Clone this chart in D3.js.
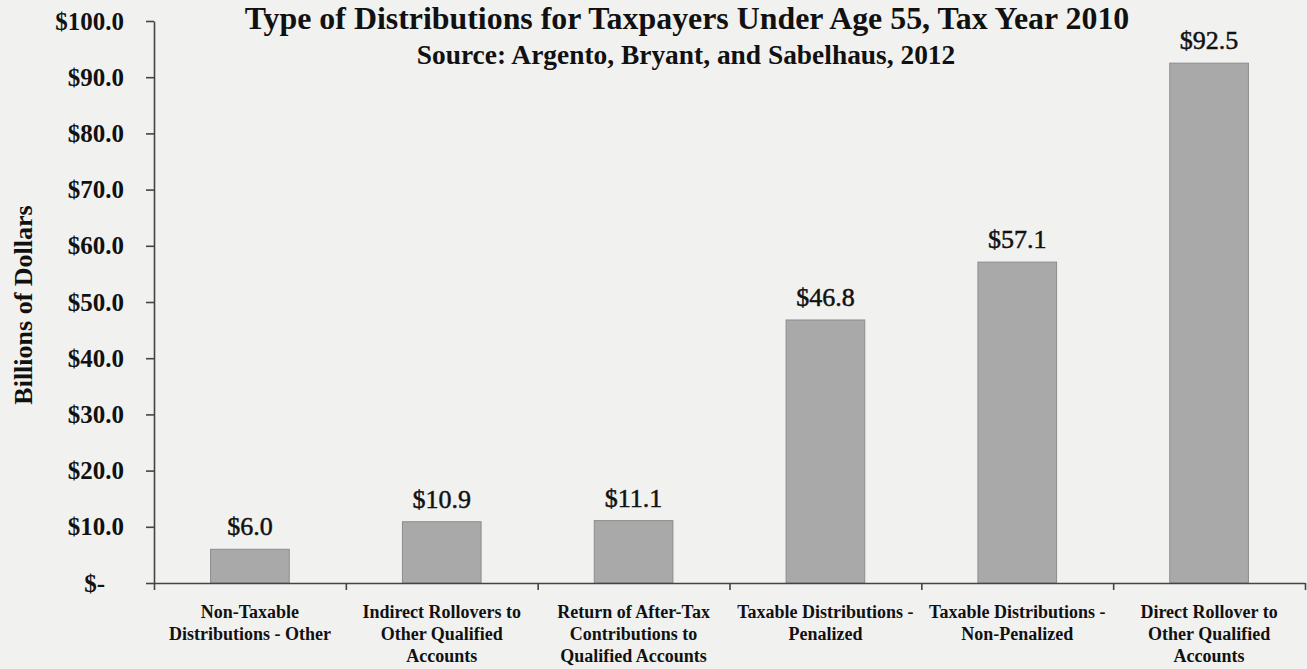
<!DOCTYPE html>
<html>
<head>
<meta charset="utf-8">
<script src="https://cdn.jsdelivr.net/npm/d3@7"></script>
<style>
  html, body { margin: 0; padding: 0; background: #f1f1f0; }
  svg { display: block; }
  text { font-family: "Liberation Serif", "Times New Roman", serif; fill: #111; }
</style>
</head>
<body>
<svg id="chart" width="1307" height="669"></svg>
<script>
// Distribution types (one array of lines per category label)
const categories = [
  "Non-Taxable Distributions - Other",
  "Indirect Rollovers to Other Qualified Accounts",
  "Return of After-Tax Contributions to Qualified Accounts",
  "Taxable Distributions - Penalized",
  "Taxable Distributions - Non-Penalized",
  "Direct Rollover to Other Qualified Accounts"
];
const categoryLines = [
  ["Non-Taxable", "Distributions - Other"],
  ["Indirect Rollovers to", "Other Qualified", "Accounts"],
  ["Return of After-Tax", "Contributions to", "Qualified Accounts"],
  ["Taxable Distributions -", "Penalized"],
  ["Taxable Distributions -", "Non-Penalized"],
  ["Direct Rollover to", "Other Qualified", "Accounts"]
];
// Billions of dollars
const values = [6.0, 10.9, 11.1, 46.8, 57.1, 92.5];
const yTicks = [0, 10, 20, 30, 40, 50, 60, 70, 80, 90, 100];

const titleText = "Type of Distributions for Taxpayers Under Age 55, Tax Year 2010";
const subtitleText = "Source: Argento, Bryant, and Sabelhaus, 2012";
const yAxisTitle = "Billions of Dollars";

const svg = d3.select("#chart");
const W = 1307, H = 669;
const plotLeft = 154, plotRight = 1305, plotTop = 21, plotBottom = 583;

svg.append("rect").attr("width", W).attr("height", H).attr("fill", "#f1f1f0");

const x = d3.scaleBand()
  .domain(categories)
  .range([plotLeft, plotRight])
  .paddingInner(0.59)
  .paddingOuter(0.295);

const y = d3.scaleLinear().domain([0, 100]).range([plotBottom, plotTop]);

// Bars
svg.append("g").selectAll("rect")
  .data(values)
  .join("rect")
  .attr("x", (d, i) => x(categories[i]))
  .attr("y", d => y(d))
  .attr("width", x.bandwidth())
  .attr("height", d => y(0) - y(d))
  .attr("fill", "#a9a9a9")
  .attr("stroke", "#8c8c8c")
  .attr("stroke-width", 1);

// Value labels
svg.append("g").selectAll("text")
  .data(values)
  .join("text")
  .attr("x", (d, i) => x(categories[i]) + x.bandwidth() / 2)
  .attr("y", d => y(d) - 14)
  .attr("text-anchor", "middle")
  .style("font-size", "26px")
  .attr("stroke", "#111")
  .attr("stroke-width", 0.5)
  .text(d => "$" + d.toFixed(1));

// Y axis
const yAxis = svg.append("g")
  .attr("transform", `translate(${plotLeft},0)`)
  .call(d3.axisLeft(y)
    .tickValues(yTicks)
    .tickSize(8)
    .tickSizeOuter(0)
    .tickPadding(22)
    .tickFormat(d => d === 0 ? "$-" : "$" + d.toFixed(1)));
yAxis.select(".domain").attr("stroke", "#444").attr("stroke-width", 1.6);
yAxis.selectAll(".tick line").attr("stroke", "#444").attr("stroke-width", 1.6);
yAxis.selectAll(".tick text")
  .style("font-family", "'Liberation Serif', 'Times New Roman', serif")
  .style("font-size", "25px")
  .style("font-weight", "bold")
  .attr("fill", "#111")
  .attr("dx", d => d === 0 ? -19 : 0);

// X axis: boundary ticks between categories
const xEdge = d3.scaleLinear().domain([0, categories.length]).range([plotLeft, plotRight]);
const xAxis = svg.append("g")
  .attr("transform", `translate(0,${plotBottom})`)
  .call(d3.axisBottom(xEdge)
    .tickValues(d3.range(categories.length + 1))
    .tickSize(7)
    .tickSizeOuter(0)
    .tickFormat(""));
xAxis.select(".domain").attr("stroke", "#444").attr("stroke-width", 1.6);
xAxis.selectAll(".tick line").attr("stroke", "#444").attr("stroke-width", 1.6);

// Category labels
const catG = svg.append("g");
categories.forEach((c, i) => {
  const cx = x(c) + x.bandwidth() / 2;
  const t = catG.append("text")
    .attr("x", cx)
    .attr("y", 618)
    .attr("text-anchor", "middle")
    .style("font-size", "18px")
    .style("font-weight", "bold");
  categoryLines[i].forEach((line, j) => {
    t.append("tspan")
      .attr("x", cx)
      .attr("dy", j === 0 ? 0 : 22)
      .text(line);
  });
});

// Fit a bold heading to a given width by scaling its font size
function fittedText(str, cx, baseline, width) {
  const t = svg.append("text")
    .attr("x", cx).attr("y", baseline)
    .attr("text-anchor", "middle")
    .style("font-size", "20px")
    .style("font-weight", "bold")
    .text(str);
  const w = t.node().getComputedTextLength();
  t.style("font-size", (20 * width / w) + "px");
  return t;
}

fittedText(titleText, 687, 29, 885);
fittedText(subtitleText, 686, 64, 539);

// Y axis title
svg.append("text")
  .attr("transform", "translate(32,305) rotate(-90)")
  .attr("text-anchor", "middle")
  .style("font-size", "26px")
  .style("font-weight", "bold")
  .text(yAxisTitle);
</script>
</body>
</html>
